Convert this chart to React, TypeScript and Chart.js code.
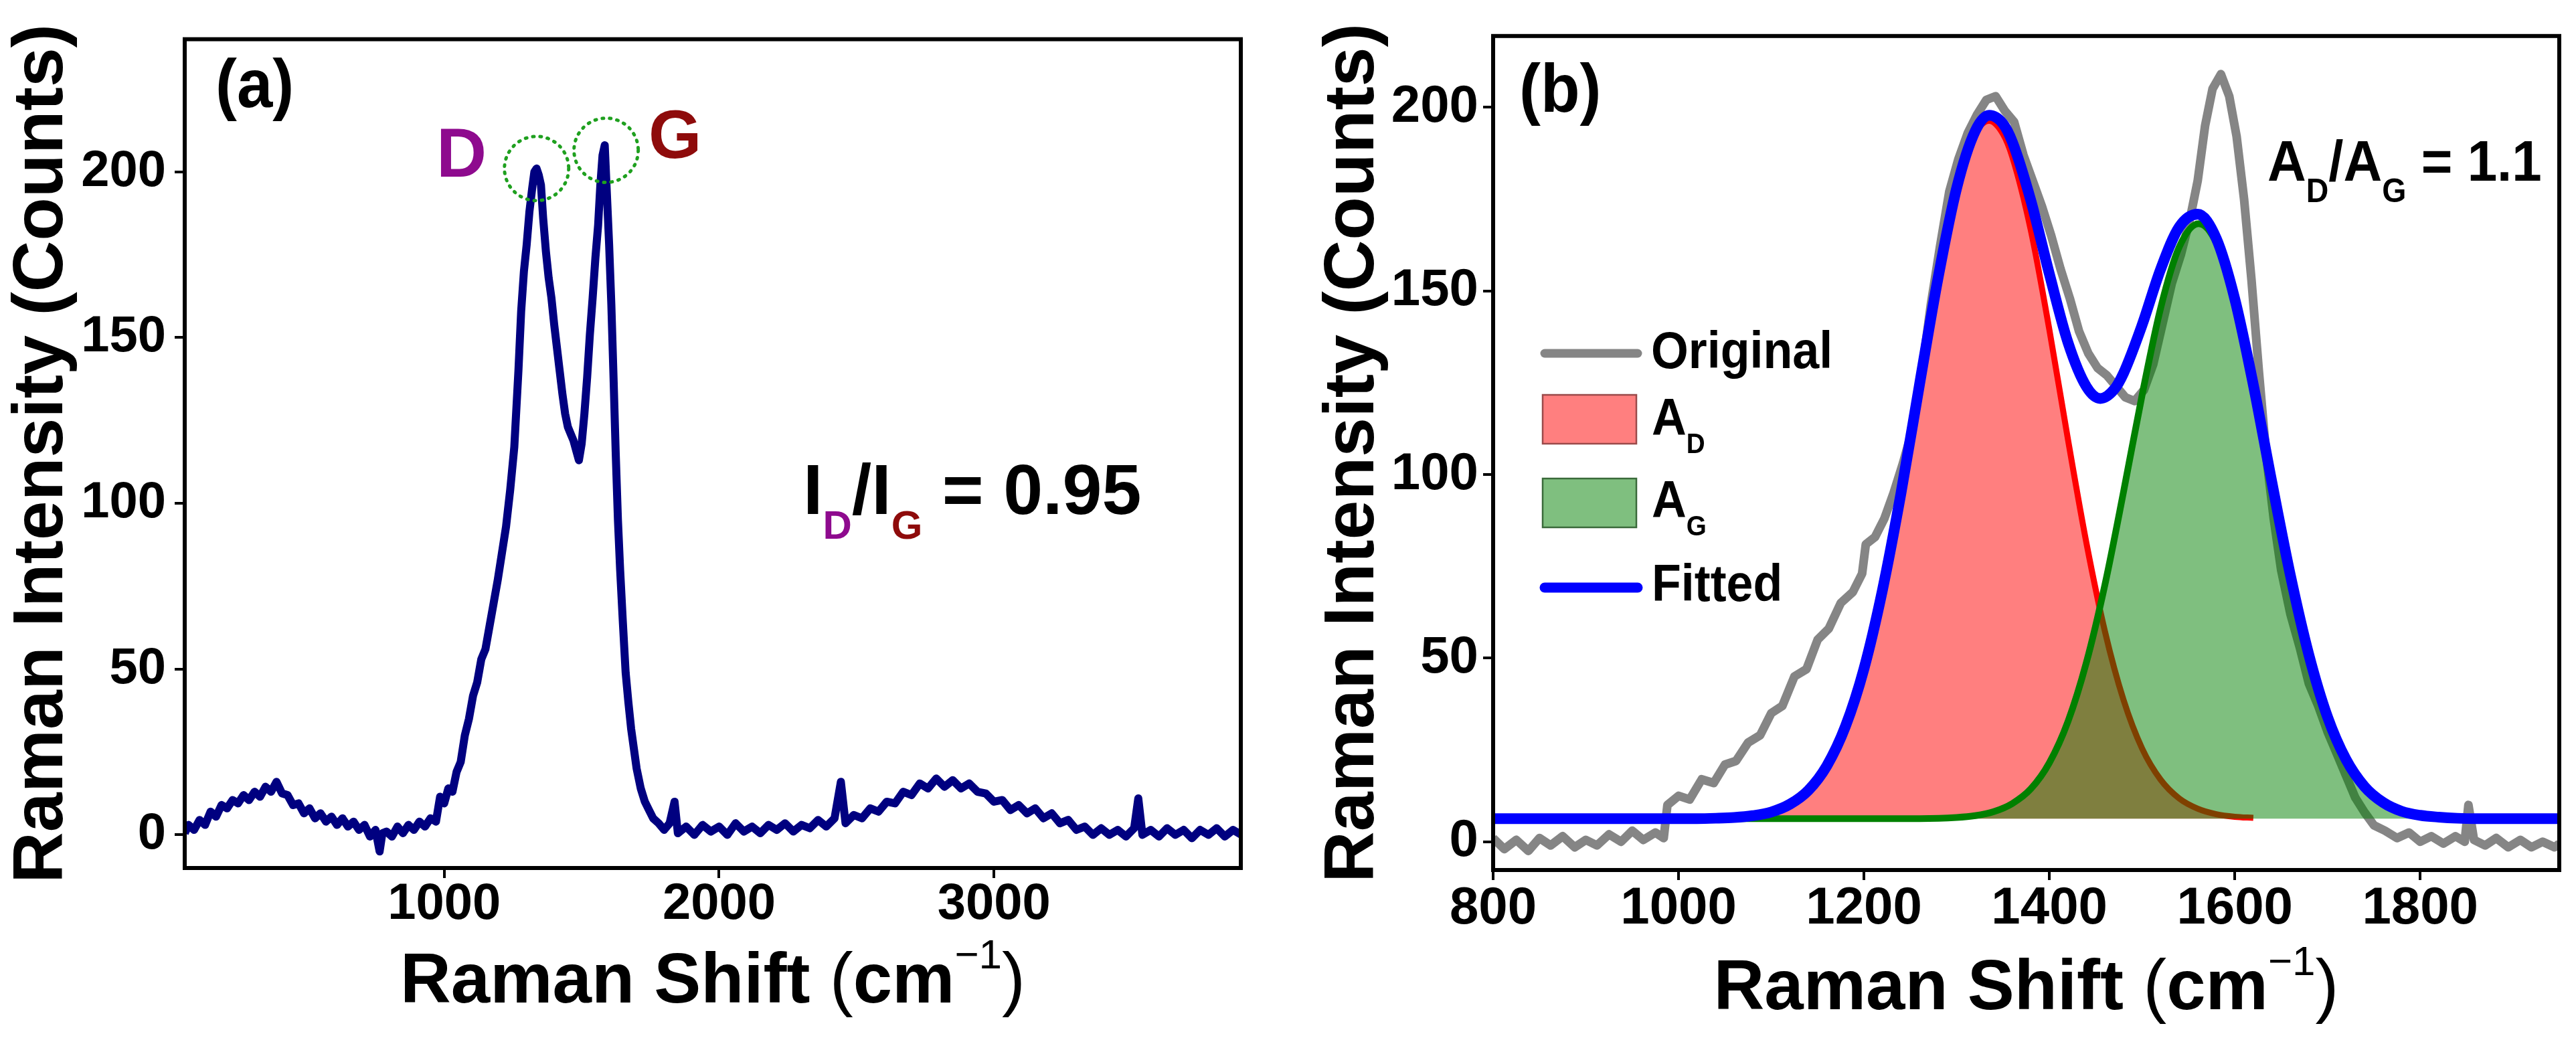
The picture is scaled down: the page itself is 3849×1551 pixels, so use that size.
import React, { useEffect, useRef } from 'react';
import { Chart, registerables } from 'chart.js';

Chart.register(...registerables);

const FONT = "'Liberation Sans', Arial, Helvetica, sans-serif";
Chart.defaults.font.family = FONT;

// ---------------- Panel (a): full Raman spectrum ----------------
const ramanShiftA = [
  56, 70, 90, 110, 130, 150, 170, 190, 210, 230,
  250, 270, 290, 310, 330, 350, 370, 390, 410, 430,
  450, 470, 490, 510, 530, 550, 570, 590, 610, 630,
  650, 670, 690, 710, 730, 750, 765, 775, 790, 810,
  830, 850, 870, 890, 910, 930, 950, 970, 985, 1000,
  1015, 1030, 1045, 1060, 1075, 1090, 1105, 1120, 1135, 1150,
  1165, 1180, 1195, 1210, 1225, 1240, 1255, 1270, 1280, 1290,
  1300, 1310, 1320, 1328, 1336, 1344, 1352, 1360, 1370, 1380,
  1390, 1400, 1410, 1420, 1430, 1440, 1450, 1460, 1470, 1480,
  1490, 1500, 1510, 1520, 1530, 1540, 1550, 1560, 1568, 1576,
  1584, 1592, 1600, 1608, 1616, 1624, 1632, 1640, 1650, 1660,
  1670, 1680, 1690, 1700, 1715, 1730, 1745, 1760, 1780, 1800,
  1820, 1838, 1850, 1880, 1910, 1940, 1970, 2000, 2030, 2060,
  2090, 2120, 2150, 2180, 2210, 2240, 2270, 2300, 2330, 2360,
  2390, 2420, 2443, 2460, 2490, 2520, 2550, 2580, 2610, 2640,
  2670, 2700, 2730, 2760, 2790, 2820, 2850, 2880, 2910, 2940,
  2970, 3000, 3030, 3060, 3090, 3120, 3150, 3180, 3210, 3240,
  3270, 3300, 3330, 3360, 3390, 3420, 3450, 3480, 3510, 3525,
  3540, 3570, 3600, 3630, 3660, 3690, 3720, 3750, 3780, 3810,
  3840, 3870, 3900,
];
const intensityA = [
  0.5, 3, 1.5, 4.5, 3, 7, 5.5, 9, 8, 10.5,
  9.5, 12, 10.5, 13, 11.5, 14.5, 13, 16, 12.5, 12,
  9, 9.5, 6.5, 8, 5, 6.5, 4, 5.5, 3, 5,
  2.5, 4, 1.5, 3, -0.5, 1.5, -5, 0.5, 1, -0.5,
  2.5, 0.5, 3, 1.5, 4, 2.5, 5, 4, 11.5, 9.5,
  14, 13, 19, 22, 30, 35, 42, 46, 53, 56,
  63, 70, 77, 85, 93, 104, 117, 140, 158, 170,
  178, 188, 195, 200, 201, 199, 196, 186, 176, 168,
  162, 154, 147, 140, 133, 127, 123, 121, 119, 116,
  113, 118, 127, 138, 151, 162, 174, 184, 196, 205,
  208, 193, 178, 160, 138, 115, 95, 80, 64, 49,
  40, 32, 26, 20, 14, 10, 7.5, 5, 3.5, 1.5,
  3.5, 10, 0.5, 2.5, 0, 3, 1, 2.5, 0, 3.5,
  1, 2.5, 0.5, 3, 1.5, 3.5, 1, 3, 2, 4.5,
  2.5, 5, 16, 3.5, 6, 5, 8, 7, 10, 9.5,
  13, 12, 15.5, 14, 17, 14.5, 16.5, 14, 15.5, 13,
  12.5, 10, 10.5, 7.5, 9, 6.5, 8, 5, 6.5, 3.5,
  4.5, 1.5, 2.5, 0, 2, 0, 1.5, -0.5, 2, 11,
  0, 1.5, -0.5, 2, 0, 1.5, -1, 1.5, 0, 2,
  -0.5, 1.5, 0,
];
const xTicksA = [1000, 2000, 3000];
const yTicksA = [0, 50, 100, 150, 200];
const peakD = { x: 1336, y: 201 };
const peakG = { x: 1589, y: 206.5 };

// ---------------- Panel (b): fitted D and G bands ----------------
const ramanShiftB = [
  800, 812, 825, 838, 850, 862, 875, 888, 900, 912,
  925, 938, 950, 962, 975, 984, 988, 1000, 1012, 1025,
  1038, 1050, 1062, 1075, 1088, 1100, 1112, 1125, 1138, 1150,
  1162, 1175, 1188, 1198, 1202, 1212, 1222, 1232, 1242, 1252,
  1262, 1272, 1282, 1292, 1302, 1312, 1322, 1332, 1342, 1352,
  1362, 1372, 1382, 1392, 1402, 1412, 1422, 1432, 1442, 1452,
  1462, 1472, 1482, 1492, 1502, 1512, 1522, 1532, 1542, 1552,
  1560, 1568, 1576, 1585, 1594, 1602, 1610, 1618, 1626, 1634,
  1642, 1650, 1660, 1670, 1680, 1690, 1700, 1710, 1720, 1730,
  1740, 1750, 1762, 1775, 1788, 1800, 1812, 1825, 1838, 1848,
  1852, 1858, 1870, 1882, 1895, 1908, 1920, 1932, 1945, 1950,
];
const originalB = [
  1, -2, 0.5, -2.5, 1, -1, 1.5, -1.5, 0.5, -1,
  2, 0, 3, 0.5, 2.5, 1, 10, 12.5, 11.5, 17,
  16, 21, 22, 27, 29, 35, 37, 45, 47, 55,
  58, 65, 68, 73, 81, 83, 88, 95, 103, 112,
  127, 146, 162, 177, 186, 193, 198, 202, 203, 199,
  196, 187, 180, 173, 165, 156, 148, 139, 133, 129,
  127, 124, 121, 120, 123, 130, 141, 152, 160, 170,
  180, 195, 205, 209, 203, 192, 175, 153, 128, 105,
  88, 74, 62, 53, 43, 37, 30, 24, 18, 12,
  8, 4.5, 3, 1, 2.5, 0, 1.5, -0.5, 1.5, 0,
  10, 0.5, -1, 1, -1.5, 0.5, -1.5, 0, -1.5, -0.5,
];
const fitShiftB = [
  800, 1020, 1040, 1060, 1080, 1100, 1120, 1140, 1160, 1180,
  1200, 1220, 1240, 1260, 1280, 1300, 1320, 1335, 1350, 1360,
  1380, 1400, 1420, 1440, 1455, 1470, 1480, 1500, 1520, 1540,
  1560, 1580, 1600, 1620, 1640, 1660, 1680, 1700, 1720, 1740,
  1760, 1780, 1800, 1820, 1840, 1860, 1950,
];
const fittedB = [
  6.3, 6.3, 6.4, 6.6, 7.1, 8.1, 10.2, 14.0, 20.7, 31.4,
  47.1, 68.6, 95.0, 124.6, 153.6, 178.0, 193.5, 197.8, 195.5, 190.6,
  174.6, 154.6, 136.0, 123.9, 120.7, 123.2, 127.6, 140.7, 155.9, 167.4,
  170.9, 164.3, 147.8, 124.4, 97.9, 72.5, 50.8, 34.0, 22.4, 15.0,
  10.7, 8.3, 7.2, 6.7, 6.4, 6.3, 6.3,
];
const adShiftB = [
  1040, 1060, 1080, 1100, 1120, 1140, 1160, 1180, 1200, 1220,
  1240, 1260, 1280, 1300, 1320, 1335, 1350, 1360, 1380, 1400,
  1420, 1440, 1460, 1480, 1500, 1520, 1540, 1560, 1580, 1600,
  1620,
];
const adB = [
  6.4, 6.6, 7.1, 8.1, 10.2, 14.0, 20.7, 31.4, 47.1, 68.6,
  95.0, 124.6, 153.5, 177.7, 192.7, 196.3, 192.7, 186.5, 166.5, 139.4,
  109.6, 81.3, 57.2, 38.6, 25.4, 16.9, 11.8, 9.0, 7.5, 6.8,
  6.5,
];
const agShiftB = [
  1060, 1100, 1140, 1180, 1220, 1260, 1300, 1320, 1340, 1360,
  1380, 1400, 1420, 1440, 1460, 1480, 1500, 1520, 1540, 1561,
  1580, 1600, 1620, 1640, 1660, 1680, 1700, 1720, 1740, 1760,
  1780, 1800, 1820, 1840,
];
const agB = [
  6.3, 6.3, 6.3, 6.3, 6.3, 6.3, 6.6, 7.1, 8.2, 10.4,
  14.4, 21.5, 32.7, 48.9, 70.1, 95.3, 121.6, 145.3, 161.9, 168.3,
  163.1, 147.3, 124.2, 97.9, 72.5, 50.8, 34.0, 22.4, 15.0, 10.7,
  8.3, 7.2, 6.7, 6.4,
];
const baselineB = 6.3;
const xTicksB = [800, 1000, 1200, 1400, 1600, 1800];
const yTicksB = [0, 50, 100, 150, 200];

// ---------------- helpers ----------------
const H = 1551;
const LEFT_W = 1924;
const RIGHT_W = 1925;
const PURPLE = '#8e0a8e';
const DARKRED = '#8e0b0b';

const toPoints = (xs: number[], ys: number[]) => xs.map((x, i) => ({ x, y: ys[i] }));

type Run = { text: string; size: number; weight?: string; color?: string; dy?: number };

function runsWidth(ctx: CanvasRenderingContext2D, runs: Run[]) {
  let w = 0;
  for (const r of runs) {
    ctx.font = `${r.weight ?? 'bold'} ${r.size}px ${FONT}`;
    w += ctx.measureText(r.text).width;
  }
  return w;
}

function drawRuns(ctx: CanvasRenderingContext2D, runs: Run[], x: number, y: number, sx = 1) {
  ctx.save();
  ctx.translate(x, y);
  ctx.scale(sx, 1);
  ctx.textAlign = 'left';
  ctx.textBaseline = 'alphabetic';
  let cx = 0;
  for (const r of runs) {
    ctx.font = `${r.weight ?? 'bold'} ${r.size}px ${FONT}`;
    ctx.fillStyle = r.color ?? '#000';
    ctx.fillText(r.text, cx, r.dy ?? 0);
    cx += ctx.measureText(r.text).width;
  }
  ctx.restore();
}

function drawXTitle(chart: any, baseline: number) {
  const { ctx, chartArea: a } = chart;
  const runs: Run[] = [
    { text: 'Raman Shift ', size: 105 },
    { text: '(', size: 105, weight: 'normal' },
    { text: 'cm', size: 105 },
    { text: '\u22121', size: 62, weight: 'normal', dy: -51 },
    { text: ')', size: 105, weight: 'normal' },
  ];
  const w = runsWidth(ctx, runs);
  drawRuns(ctx, runs, (a.left + a.right) / 2 - w / 2, baseline);
}

const framePlugin = {
  id: 'frame',
  afterDatasetsDraw(chart: any) {
    const { ctx, chartArea: a } = chart;
    ctx.save();
    ctx.strokeStyle = '#000';
    ctx.lineWidth = 6;
    ctx.strokeRect(a.left, a.top, a.right - a.left, a.bottom - a.top);
    ctx.restore();
  },
};

function axes(opts: {
  xMin: number; xMax: number; xTicks: number[]; yMin: number; yMax: number; yTicks: number[];
  tickSize: number; xPad: number; yPad: number; yWidth: number; xHeight: number; titlePad: number;
}) {
  const grid = { display: true, drawOnChartArea: false, drawTicks: true, tickLength: 15, lineWidth: 4, color: '#000' };
  const tickFont = { family: FONT, size: opts.tickSize, weight: 'bold' as const };
  return {
    x: {
      type: 'linear' as const,
      min: opts.xMin,
      max: opts.xMax,
      grid,
      border: { display: false },
      afterBuildTicks: (s: any) => { s.ticks = opts.xTicks.map((v) => ({ value: v })); },
      afterFit: (s: any) => { s.height = opts.xHeight; },
      ticks: { color: '#000', font: tickFont, padding: opts.xPad, autoSkip: false, maxRotation: 0, minRotation: 0, callback: (v: any) => String(v) },
    },
    y: {
      type: 'linear' as const,
      min: opts.yMin,
      max: opts.yMax,
      grid,
      border: { display: false },
      afterBuildTicks: (s: any) => { s.ticks = opts.yTicks.map((v) => ({ value: v })); },
      afterFit: (s: any) => { s.width = opts.yWidth; },
      ticks: { color: '#000', font: tickFont, padding: opts.yPad, autoSkip: false, callback: (v: any) => String(v) },
      title: {
        display: true,
        text: 'Raman Intensity (Counts)',
        color: '#000',
        font: { family: FONT, size: 106, weight: 'bold' as const },
        padding: { top: opts.titlePad, bottom: 0 },
      },
    },
  };
}

// ---------------- panel (a) ----------------
const annotationsA = {
  id: 'annotationsA',
  afterDraw(chart: any) {
    const { ctx, scales } = chart;
    drawXTitle(chart, 1498);
    drawRuns(ctx, [{ text: '(a)', size: 102 }], 322, 160, 0.94);
    drawRuns(ctx, [{ text: 'D', size: 104, color: PURPLE }], 652, 264);
    drawRuns(ctx, [{ text: 'G', size: 102, color: DARKRED }], 969, 236);
    ctx.save();
    ctx.strokeStyle = '#1fa01f';
    ctx.lineWidth = 5;
    ctx.lineCap = 'round';
    ctx.setLineDash([2, 9]);
    for (const p of [peakD, peakG]) {
      ctx.beginPath();
      ctx.arc(scales.x.getPixelForValue(p.x), scales.y.getPixelForValue(p.y), 48, 0, Math.PI * 2);
      ctx.stroke();
    }
    ctx.restore();
    drawRuns(ctx, [
      { text: 'I', size: 106 },
      { text: 'D', size: 60, color: PURPLE, dy: 37 },
      { text: '/I', size: 106 },
      { text: 'G', size: 60, color: DARKRED, dy: 37 },
      { text: ' = 0.95', size: 106 },
    ], 1200, 768);
  },
};

function configA(): any {
  return {
    type: 'line',
    data: {
      datasets: [{
        data: toPoints(ramanShiftA, intensityA),
        borderColor: '#000080',
        borderWidth: 12,
        borderJoinStyle: 'round',
        pointRadius: 0,
        tension: 0,
        fill: false,
      }],
    },
    options: {
      animation: false,
      responsive: false,
      layout: { padding: { top: 31, right: 70, left: 0, bottom: 0 } },
      plugins: { legend: { display: false }, tooltip: { enabled: false } },
      scales: axes({
        xMin: 56, xMax: 3898, xTicks: xTicksA, yMin: -10, yMax: 240, yTicks: yTicksA,
        tickSize: 76, xPad: -6, yPad: 13, yWidth: 276, xHeight: H - 1297, titlePad: 0,
      }),
    },
    plugins: [framePlugin, annotationsA],
  };
}

// ---------------- panel (b) ----------------
const annotationsB = {
  id: 'annotationsB',
  afterDraw(chart: any) {
    const { ctx } = chart;
    drawXTitle(chart, 1508);
    drawRuns(ctx, [{ text: '(b)', size: 102 }], 346, 167, 0.94);
    drawRuns(ctx, [
      { text: 'A', size: 86 },
      { text: 'D', size: 50, dy: 32 },
      { text: '/A', size: 86 },
      { text: 'G', size: 50, dy: 32 },
      { text: ' = 1.1', size: 86 },
    ], 1464, 270, 0.93);

    // legend
    ctx.save();
    ctx.lineCap = 'round';
    ctx.strokeStyle = '#858585';
    ctx.lineWidth = 13;
    ctx.beginPath(); ctx.moveTo(384, 528); ctx.lineTo(523, 528); ctx.stroke();
    ctx.strokeStyle = '#0000ff';
    ctx.lineWidth = 15;
    ctx.beginPath(); ctx.moveTo(384, 878); ctx.lineTo(523, 878); ctx.stroke();
    ctx.lineWidth = 2.5;
    ctx.fillStyle = 'rgba(255,0,0,0.5)';
    ctx.strokeStyle = '#9a4a4a';
    ctx.fillRect(381, 590, 140, 73); ctx.strokeRect(381, 590, 140, 73);
    ctx.fillStyle = 'rgba(0,128,0,0.5)';
    ctx.strokeStyle = '#3a6a3a';
    ctx.fillRect(381, 715, 140, 73); ctx.strokeRect(381, 715, 140, 73);
    ctx.restore();
    drawRuns(ctx, [{ text: 'Original', size: 78 }], 543, 550, 0.92);
    drawRuns(ctx, [{ text: 'A', size: 78 }, { text: 'D', size: 42, dy: 27 }], 544, 650, 0.92);
    drawRuns(ctx, [{ text: 'A', size: 78 }, { text: 'G', size: 42, dy: 27 }], 544, 773, 0.92);
    drawRuns(ctx, [{ text: 'Fitted', size: 78 }], 544, 898, 0.92);
  },
};

function configB(): any {
  const base = { pointRadius: 0, fill: false, borderJoinStyle: 'round' };
  return {
    type: 'line',
    data: {
      datasets: [
        {
          ...base,
          label: 'Fitted',
          data: toPoints(fitShiftB, fittedB),
          borderColor: '#0000ff',
          borderWidth: 16,
          cubicInterpolationMode: 'monotone',
          order: 1,
        },
        {
          ...base,
          label: 'A_G',
          data: toPoints(agShiftB, agB),
          borderColor: '#008000',
          backgroundColor: 'rgba(0,128,0,0.5)',
          borderWidth: 10,
          fill: { value: baselineB },
          cubicInterpolationMode: 'monotone',
          order: 2,
        },
        {
          ...base,
          label: 'A_D',
          data: toPoints(adShiftB, adB),
          borderColor: '#ff0000',
          backgroundColor: 'rgba(255,0,0,0.5)',
          borderWidth: 9,
          fill: { value: baselineB },
          cubicInterpolationMode: 'monotone',
          order: 3,
        },
        {
          ...base,
          label: 'Original',
          data: toPoints(ramanShiftB, originalB),
          borderColor: '#858585',
          borderWidth: 13,
          tension: 0,
          order: 4,
        },
      ],
    },
    options: {
      animation: false,
      responsive: false,
      layout: { padding: { top: 35, right: 25, left: 0, bottom: 0 } },
      plugins: { legend: { display: false }, tooltip: { enabled: false } },
      scales: axes({
        xMin: 800, xMax: 1950, xTicks: xTicksB, yMin: -7.7, yMax: 219.4, yTicks: yTicksB,
        tickSize: 78, xPad: -3, yPad: 7, yWidth: 307, xHeight: H - 1300, titlePad: 35,
      }),
    },
    plugins: [framePlugin, annotationsB],
  };
}

function Panel({ make, left, width }: { make: () => any; left: number; width: number }) {
  const ref = useRef<HTMLCanvasElement>(null);
  useEffect(() => {
    if (!ref.current) return;
    const chart = new Chart(ref.current, make());
    return () => chart.destroy();
  }, [make]);
  return (
    <canvas
      ref={ref}
      width={width}
      height={H}
      style={{ position: 'absolute', left, top: 0, width, height: H, display: 'block' }}
    />
  );
}

export default function App() {
  useEffect(() => {
    document.body.style.margin = '0';
    document.body.style.background = '#fff';
  }, []);
  return (
    <div style={{ position: 'relative', width: 3849, height: H, background: '#fff', overflow: 'hidden' }}>
      <Panel make={configA} left={0} width={LEFT_W} />
      <Panel make={configB} left={LEFT_W} width={RIGHT_W} />
    </div>
  );
}
